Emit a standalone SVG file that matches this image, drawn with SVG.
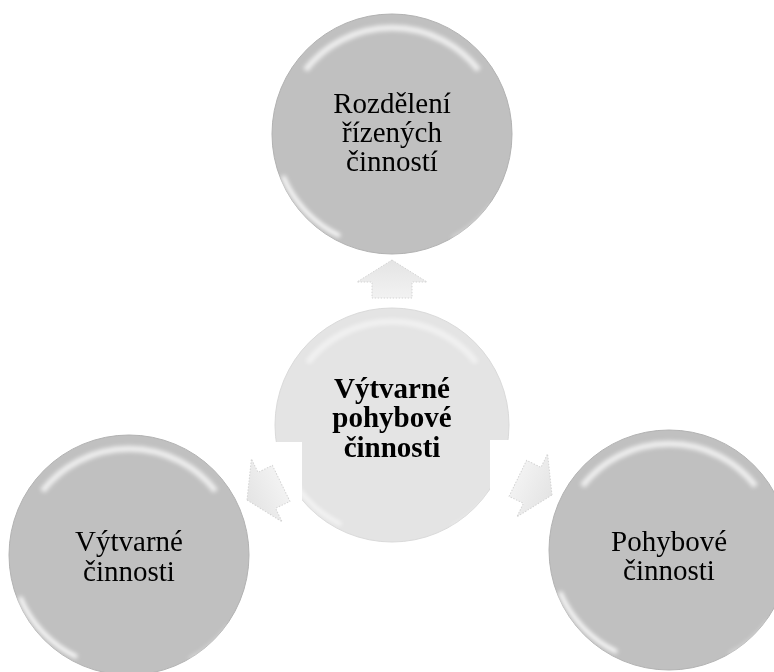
<svg xmlns="http://www.w3.org/2000/svg" width="774" height="672" viewBox="0 0 774 672">
<defs>
<style>
.lbl{font-family:"Liberation Serif","Times New Roman",serif;font-size:29px;fill:#000;text-anchor:middle}
.bold{font-weight:bold}
.outer{fill:#c0c0c0;stroke:#b2b2b2;stroke-width:1}
.inner{fill:#e4e4e4;stroke:#dadada;stroke-width:1}
.arrow{fill:url(#ag);stroke:#d4d4d4;stroke-width:1;stroke-dasharray:1.5 1.5}
</style>
<filter id="blur" x="-20%" y="-20%" width="140%" height="140%"><feGaussianBlur stdDeviation="2"/></filter>
<linearGradient id="ag" x1="0" y1="0" x2="1" y2="0">
<stop offset="0" stop-color="#f2f2f2"/><stop offset="1" stop-color="#e4e4e4"/>
</linearGradient>
<g id="gloss">
<path d="M -86.6 -64 A 110 110 0 0 1 86.6 -64" fill="none" stroke="#ffffff" stroke-width="6" stroke-opacity="0.75" filter="url(#blur)"/>
<path d="M -109 42 A 115 115 0 0 0 -52 102" fill="none" stroke="#ffffff" stroke-width="4" stroke-opacity="1" filter="url(#blur)"/>
<path d="M 100 70 A 120 120 0 0 1 60 104" fill="none" stroke="#ffffff" stroke-width="2" stroke-opacity="0.6" filter="url(#blur)"/>
</g>
<path id="arr" d="M0,0 L-22,-35 L-22,-20 L-38,-20 L-38,20 L-22,20 L-22,35 Z"/>
</defs>
<rect width="774" height="672" fill="#ffffff"/>
<g id="center">
<circle class="inner" cx="392" cy="425" r="117"/>
<use href="#gloss" transform="translate(392,425) scale(0.975)" opacity="0.7"/>
<text class="lbl bold" x="392" y="398">Výtvarné</text>
<text class="lbl bold" x="392" y="427">pohybové</text>
<text class="lbl bold" x="392" y="457">činnosti</text>
</g>
<g id="connectors">
<rect x="228" y="442" width="74" height="90" fill="#ffffff"/>
<rect x="490" y="440" width="70" height="90" fill="#ffffff"/>
<use href="#arr" class="arrow" transform="translate(392,260) rotate(-90)"/>
<use href="#arr" class="arrow" transform="translate(247,500) rotate(154)"/>
<use href="#arr" class="arrow" transform="translate(552,495) rotate(26)"/>
</g>
<g id="top">
<circle class="outer" cx="392" cy="134" r="120"/>
<use href="#gloss" transform="translate(392,134)"/>
<text class="lbl" x="392" y="113">Rozdělení</text>
<text class="lbl" x="392" y="142">řízených</text>
<text class="lbl" x="392" y="171">činností</text>
</g>
<g id="left">
<circle class="outer" cx="129" cy="555" r="120"/>
<use href="#gloss" transform="translate(129,555)"/>
<text class="lbl" x="129" y="551">Výtvarné</text>
<text class="lbl" x="129" y="581">činnosti</text>
</g>
<g id="right">
<circle class="outer" cx="669" cy="550" r="120"/>
<use href="#gloss" transform="translate(669,550)"/>
<text class="lbl" x="669" y="551">Pohybové</text>
<text class="lbl" x="669" y="580">činnosti</text>
</g>
</svg>
